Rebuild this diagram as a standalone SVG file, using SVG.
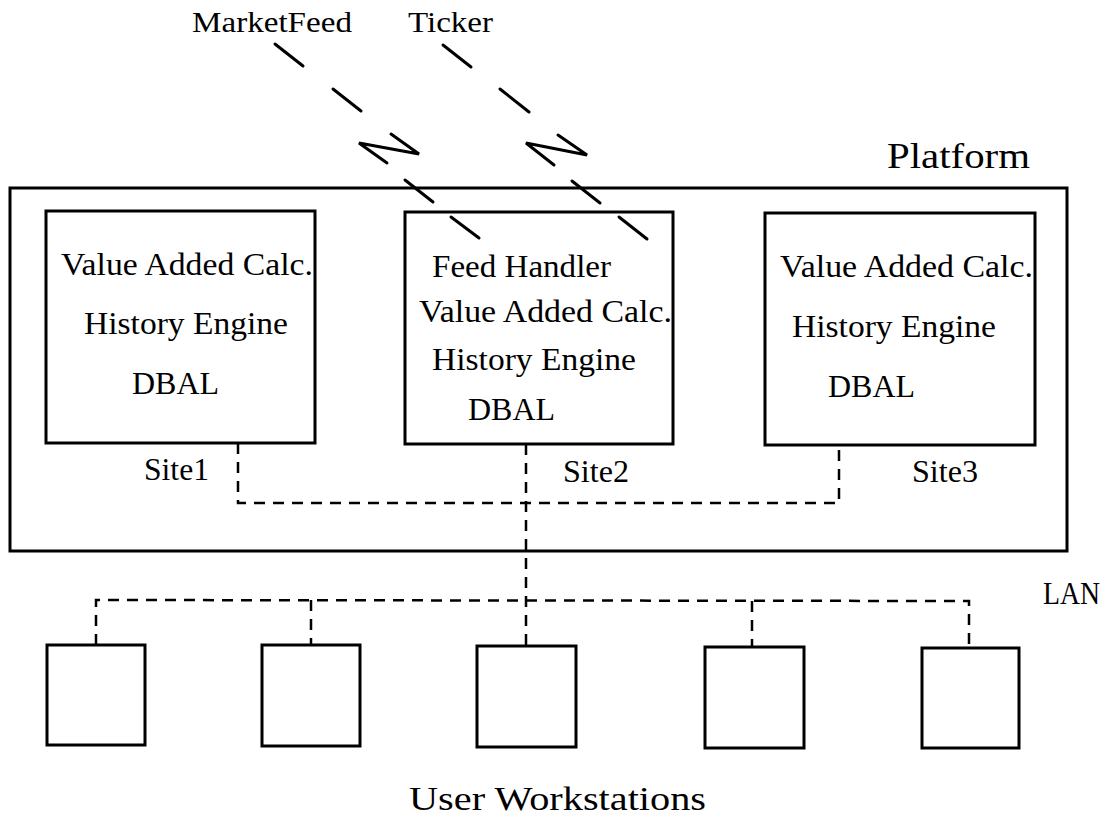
<svg xmlns="http://www.w3.org/2000/svg" width="1108" height="820" viewBox="0 0 1108 820">
<style>
  .box { fill: none; stroke: #000; stroke-width: 3; }
  .t { font-family: "Liberation Serif", "DejaVu Serif", serif; font-size: 32px; fill: #000; }
  .small { font-size: 30px; }
  .big { font-size: 36px; }
  .dash { fill: none; stroke: #000; stroke-width: 2.5; stroke-dasharray: 11 8; }
  .bolt { fill: none; stroke: #000; stroke-width: 3; stroke-linecap: round; stroke-linejoin: miter; }
</style>
<rect width="1108" height="820" fill="#fff"/>

<g id="feed-labels">
  <text class="t small" x="192" y="32" textLength="160" lengthAdjust="spacingAndGlyphs">MarketFeed</text>
  <text class="t small" x="408" y="32" textLength="85" lengthAdjust="spacingAndGlyphs">Ticker</text>
</g>

<g id="platform">
  <rect class="box" x="10" y="188" width="1057" height="363"/>
  <text class="t big" x="887" y="168" textLength="143" lengthAdjust="spacingAndGlyphs">Platform</text>
</g>

<g id="site1">
  <rect class="box" x="46" y="211" width="269" height="232"/>
  <text class="t" x="61" y="275" textLength="252" lengthAdjust="spacingAndGlyphs">Value Added Calc.</text>
  <text class="t" x="84" y="334" textLength="204" lengthAdjust="spacingAndGlyphs">History Engine</text>
  <text class="t" x="132" y="394" textLength="87" lengthAdjust="spacingAndGlyphs">DBAL</text>
  <text class="t" x="144" y="480" textLength="65" lengthAdjust="spacingAndGlyphs">Site1</text>
</g>

<g id="site2">
  <rect class="box" x="405" y="212" width="268" height="232"/>
  <text class="t" x="432" y="277" textLength="179" lengthAdjust="spacingAndGlyphs">Feed Handler</text>
  <text class="t" x="419" y="322" textLength="253" lengthAdjust="spacingAndGlyphs">Value Added Calc.</text>
  <text class="t" x="432" y="370" textLength="204" lengthAdjust="spacingAndGlyphs">History Engine</text>
  <text class="t" x="468" y="420" textLength="87" lengthAdjust="spacingAndGlyphs">DBAL</text>
  <text class="t" x="563" y="482" textLength="66" lengthAdjust="spacingAndGlyphs">Site2</text>
</g>

<g id="site3">
  <rect class="box" x="765" y="213" width="270" height="232"/>
  <text class="t" x="780" y="277" textLength="253" lengthAdjust="spacingAndGlyphs">Value Added Calc.</text>
  <text class="t" x="792" y="337" textLength="204" lengthAdjust="spacingAndGlyphs">History Engine</text>
  <text class="t" x="828" y="397" textLength="87" lengthAdjust="spacingAndGlyphs">DBAL</text>
  <text class="t" x="912" y="482" textLength="66" lengthAdjust="spacingAndGlyphs">Site3</text>
</g>

<g id="ws1"><rect class="box" x="47" y="645" width="98" height="100"/></g>
<g id="ws2"><rect class="box" x="262" y="645" width="98" height="101"/></g>
<g id="ws3"><rect class="box" x="477" y="646" width="99" height="101"/></g>
<g id="ws4"><rect class="box" x="705" y="647" width="99" height="101"/></g>
<g id="ws5"><rect class="box" x="922" y="648" width="97" height="100"/></g>

<g id="labels">
  <text class="t" x="1043" y="604" textLength="57" lengthAdjust="spacingAndGlyphs">LAN</text>
  <text class="t" x="409" y="810" style="font-size:34px" textLength="297" lengthAdjust="spacingAndGlyphs">User Workstations</text>
</g>

<g id="connectors">
  <line class="bolt" x1="275" y1="44" x2="303" y2="66"/>
  <line class="bolt" x1="333" y1="89" x2="361" y2="111"/>
  <polyline class="bolt" points="391,134 419,154 359,143 387,163"/>
  <line class="bolt" x1="405" y1="180" x2="433" y2="202"/>
  <line class="bolt" x1="451" y1="217" x2="479" y2="238"/>

  <line class="bolt" x1="443" y1="45" x2="471" y2="67"/>
  <line class="bolt" x1="500" y1="89" x2="529" y2="112"/>
  <polyline class="bolt" points="558,135 587,155 526,143 554,165"/>
  <line class="bolt" x1="572" y1="181" x2="600" y2="203"/>
  <line class="bolt" x1="619" y1="217" x2="647" y2="239"/>

  <polyline class="dash" points="238,443 238,503 839,503 839,445"/>
  <line class="dash" x1="526" y1="444" x2="526" y2="646"/>

  <polyline class="dash" points="96,645 96,600 969,601 969,648"/>
  <line class="dash" x1="311" y1="600" x2="311" y2="645"/>
  <line class="dash" x1="752" y1="601" x2="752" y2="647"/>
</g>
</svg>
